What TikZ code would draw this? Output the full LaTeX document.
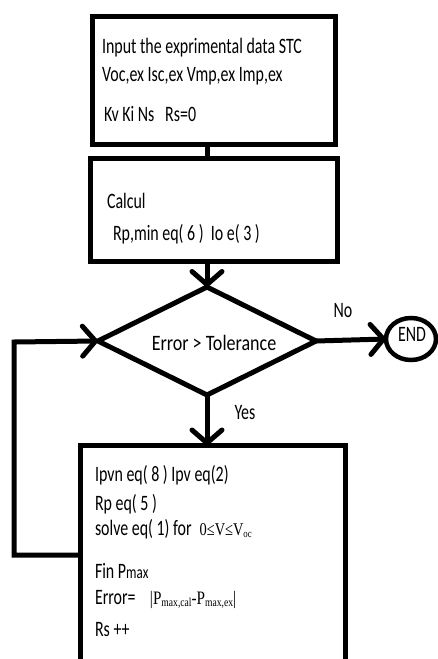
\documentclass[tikz,border=0pt]{standalone}
\usepackage{fontspec}
\setmainfont{Carlito}[FakeStretch=0.725]
\newfontfamily\wide[FakeStretch=0.82]{Carlito}
\newfontfamily\tms[FakeStretch=0.8]{Liberation Serif}
\usetikzlibrary{shapes.geometric,arrows.meta}
\begin{document}
\begin{tikzpicture}[x=1pt,y=-1pt,
  every node/.style={inner sep=0pt, outer sep=0pt},
  box/.style={draw, line width=5pt, rectangle},
  txt/.style={anchor=base west, font=\fontsize{22}{24}\selectfont},
  lbl/.style={font=\fontsize{22}{24}\selectfont},
  conn/.style={line width=5pt},
  arr/.style={line width=5pt, -{Straight Barb[length=13pt,width=30pt,round]}}]
\useasboundingbox (0,0) rectangle (438,659);
\clip (0,0) rectangle (438,659);
\fill[white] (0,0) rectangle (438,659);
% boxes
\node[box, minimum width=242.5pt, minimum height=128.5pt] (box1) at (213.75,80.25) {};
\node[box, minimum width=247.5pt, minimum height=103pt] (box2) at (213.75,209.5) {};
\node[draw, line width=5pt, diamond, minimum width=218pt, minimum height=108pt] (dec) at (207,341) {};
\node[draw, line width=4.5pt, ellipse, minimum width=50pt, minimum height=42pt] (end) at (411,339) {};
\node[box, minimum width=265.5pt, minimum height=274.5pt] (box3) at (212.75,582.75) {};
% texts
\node[txt] (t1) at (102,53) {Input the exprimental data STC};
\node[txt] (t2) at (102,81) {Voc,ex Isc,ex Vmp,ex Imp,ex};
\node[txt] (t3) at (104,121) {Kv Ki Ns\ \ \ Rs=0};
\node[txt] (t4) at (107,208) {Calcul};
\node[txt] (t5) at (113,240) {Rp,min eq( 6 )\ \ Io e( 3 )};
\node[lbl, anchor=base] (t6) at (214,350) {\wide Error > Tolerance};
\node[lbl] (t7) at (343,311) {No};
\node[lbl] (t8) at (245,413) {Yes};
\node[lbl] (t9) at (412,334) {END};
\node[txt] (u1) at (95,481) {Ipvn eq( 8 ) Ipv eq(2)};
\node[txt] (u2) at (95,510) {Rp eq( 5 )};
\node[txt] (u3) at (95,535) {solve eq( 1) for\hspace{8pt}{\tms\fontsize{18}{18}\selectfont 0≤V≤V\raisebox{-2pt}{\fontsize{11}{12}\selectfont oc}}};
\node[txt] (u4) at (95,578) {Fin P{\fontsize{18}{18}\selectfont max}};
\node[txt] (u5) at (95,604) {Error=\ \ \ \ {\tms\fontsize{19}{18}\selectfont |P\raisebox{-2pt}{\fontsize{12}{12}\selectfont max,cal}-P\raisebox{-2pt}{\fontsize{12}{12}\selectfont max,ex}|}};
\node[txt] (u6) at (95,636) {Rs ++};
% connectors
\coordinate (c1) at (14,555);
\coordinate (c2) at (14,342);
\draw[conn] (box1.south -| dec.north) -- (box2.north -| dec.north);
\draw[arr] (box2.south -| dec.north) -- (dec.north);
\draw[arr] (dec.east) -- (end.west);
\draw[arr] (dec.south) -- (box3.north -| dec.south);
\draw[arr, line join=miter] (c1 -| box3.west) -- (c1) -- (c2) -- (dec.west);
\end{tikzpicture}
\end{document}
